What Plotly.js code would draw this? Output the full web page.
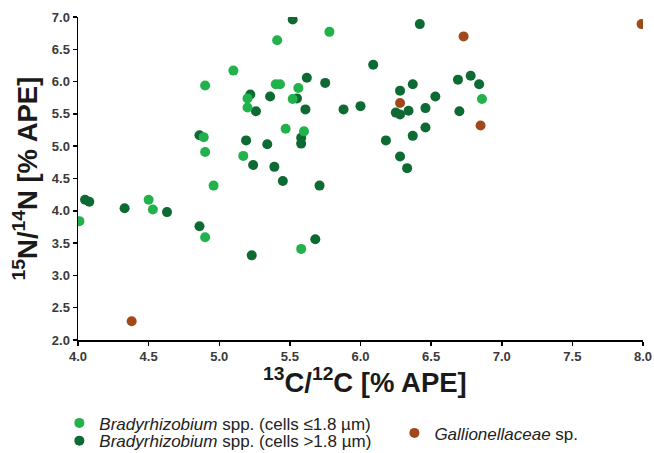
<!DOCTYPE html>
<html>
<head>
<meta charset="utf-8">
<script src="https://cdn.plot.ly/plotly-3.0.1.min.js"></script>
<style>html,body{margin:0;padding:0;background:#fff;}#chart{width:654px;height:453px;}</style>
</head>
<body>
<div id="chart"></div>
<script>
// Bradyrhizobium spp. (cells <=1.8 um) - light green
const smallX = [5.78, 5.41, 5.10, 4.90, 5.40, 5.43, 5.56, 5.20, 5.52, 5.20, 5.47, 5.60, 4.89, 4.90, 5.17, 4.96, 4.50, 4.53, 4.01, 4.90, 5.58, 6.86];
const smallY = [6.77, 6.64, 6.17, 5.94, 5.96, 5.96, 5.90, 5.74, 5.73, 5.60, 5.27, 5.23, 5.14, 4.91, 4.85, 4.39, 4.17, 4.02, 3.84, 3.59, 3.41, 5.73];
// Bradyrhizobium spp. (cells >1.8 um) - dark green
const largeX = [5.52, 6.42, 5.62, 5.75, 6.09, 5.22, 5.36, 5.55, 5.26, 5.61, 5.88, 6.00, 4.86, 5.58, 5.58, 5.19, 5.34, 5.24, 5.39, 5.45, 5.71, 4.05, 4.08, 4.33, 4.63, 4.86, 5.23, 5.68, 6.69, 6.78, 6.84, 6.37, 6.28, 6.53, 6.25, 6.28, 6.34, 6.46, 6.70, 6.46, 6.37, 6.18, 6.28, 6.33];
const largeY = [6.96, 6.89, 6.06, 5.98, 6.26, 5.80, 5.77, 5.74, 5.54, 5.57, 5.57, 5.62, 5.17, 5.13, 5.04, 5.09, 5.03, 4.71, 4.68, 4.46, 4.39, 4.17, 4.14, 4.04, 3.98, 3.76, 3.31, 3.56, 6.03, 6.09, 5.96, 5.96, 5.86, 5.77, 5.52, 5.49, 5.55, 5.59, 5.54, 5.29, 5.16, 5.09, 4.84, 4.66];
// Gallionellaceae sp. - brown
const gallX = [4.38, 6.73, 7.99, 6.28, 6.85];
const gallY = [2.29, 6.70, 6.89, 5.67, 5.32];

const xTicks = [4.0, 4.5, 5.0, 5.5, 6.0, 6.5, 7.0, 7.5, 8.0];
const yTicks = [2.0, 2.5, 3.0, 3.5, 4.0, 4.5, 5.0, 5.5, 6.0, 6.5, 7.0];
const xTitle = '<sup>13</sup>C/<sup>12</sup>C [% APE]';
const yTitle = '<sup>15</sup>N/<sup>14</sup>N [% APE]';

const LIGHT = '#22b24c', DARK = '#0c6a32', BROWN = '#a04a1c';
const FONT = 'Liberation Sans, Arial, sans-serif';
const titleFont = {family: FONT, size: 27.5, color: '#1a1a1a', weight: 'bold'};

const traces = [
  {x: largeX, y: largeY, type: 'scatter', mode: 'markers', name: '<i>Bradyrhizobium</i> spp. (cells >1.8 µm)',
   marker: {color: DARK, size: 10}, legend: 'legend2'},
  {x: smallX, y: smallY, type: 'scatter', mode: 'markers', name: '<i>Bradyrhizobium</i> spp. (cells ≤1.8 µm)',
   marker: {color: LIGHT, size: 10}, legend: 'legend'},
  {x: gallX, y: gallY, type: 'scatter', mode: 'markers', name: '<i>Gallionellaceae</i> sp.',
   marker: {color: BROWN, size: 10}, legend: 'legend3'}
];

const axisCommon = {
  showgrid: false, zeroline: false, showline: true, linecolor: '#000', linewidth: 1.5,
  ticks: 'outside', ticklen: 4, tickwidth: 1.5, tickcolor: '#000',
  tickfont: {family: FONT, size: 13, color: '#3a3a3a', weight: 'bold'},
  tickformat: '.1f', automargin: false
};

const legendFont = {family: FONT, size: 17, color: '#222'};
const legendCommon = {xref: 'paper', yref: 'paper', xanchor: 'left', yanchor: 'middle',
  font: legendFont, bgcolor: 'rgba(0,0,0,0)', borderwidth: 0};

const layout = {
  width: 654, height: 453,
  margin: {l: 78, r: 11, t: 17, b: 113, autoexpand: false},
  paper_bgcolor: '#fff', plot_bgcolor: '#fff',
  font: {family: FONT},
  xaxis: Object.assign({}, axisCommon, {range: [4, 8], tickvals: xTicks}),
  yaxis: Object.assign({}, axisCommon, {
    range: [2, 7], tickvals: yTicks,
    title: {text: yTitle, font: titleFont, standoff: 6}
  }),
  annotations: [
    {text: xTitle, xref: 'paper', yref: 'paper', x: 0.508, y: -0.068, xanchor: 'center', yanchor: 'top',
     showarrow: false, font: titleFont, borderpad: 0}
  ],
  showlegend: true,
  legend: Object.assign({}, legendCommon, {x: -0.033, y: -0.258}),
  legend2: Object.assign({}, legendCommon, {x: -0.033, y: -0.313}),
  legend3: Object.assign({}, legendCommon, {x: 0.560, y: -0.289})
};

Plotly.newPlot('chart', traces, layout, {displayModeBar: false, staticPlot: true});
</script>
</body>
</html>
